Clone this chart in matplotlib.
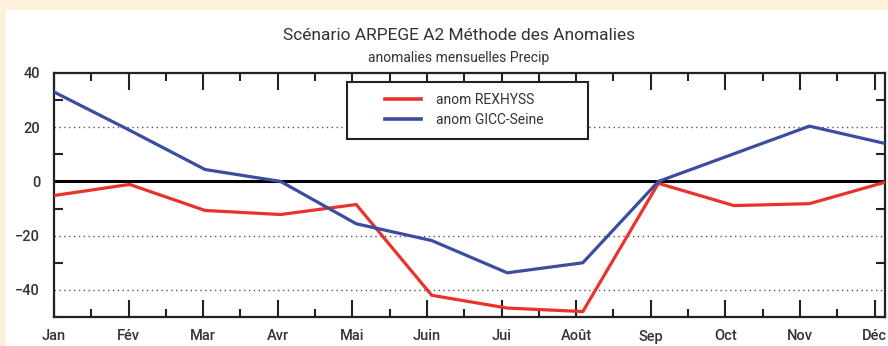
import numpy as np
import matplotlib as mpl
mpl.use('Agg')
from matplotlib import pyplot as plt
from matplotlib.ticker import MultipleLocator

months = ['Jan', 'Fév', 'Mar', 'Avr', 'Mai', 'Juin', 'Jui', 'Août', 'Sep', 'Oct', 'Nov', 'Déc']
anom_rexhyss = [-5.2, -1.1, -10.7, -12.2, -8.5, -42.0, -46.7, -48.0, -0.7, -8.9, -8.2, -0.3]
anom_gicc = [33.0, 18.9, 4.4, 0.0, -15.6, -21.8, -33.7, -30.0, 0.0, 10.2, 20.4, 14.0]

# the series run over the whole x range, ticks are spaced a bit tighter
x_end = 11.14
x_data = np.linspace(0, x_end, len(months))
x_ticks = np.arange(len(months))

plt.rcParams['font.family'] = ['Roboto', 'DejaVu Sans']
txt = '#333333'

fig = plt.figure(figsize=(8.88, 3.46), dpi=100)
fig.patch.set_facecolor('#fdf1dc')
# white panel behind the chart
fig.patches.append(mpl.patches.Rectangle((6/888, 0), 1, 1 - 10/346, transform=fig.transFigure,
                                         facecolor='white', edgecolor='none', zorder=-1))

ax_l, ax_b, ax_w, ax_h = 54, 29, 831, 244
ax = fig.add_axes([ax_l/888, ax_b/346, ax_w/888, ax_h/346])
ax.set_facecolor('white')

for y in [20, -20, -40]:
    ax.axhline(y, color='#555555', lw=1.0, ls=(0, (1, 2.5)), zorder=1)
ax.axhline(0, color='black', lw=2.2, zorder=2)

ax.plot(x_data, anom_rexhyss, color='#e8322b', lw=2.3, label='anom REXHYSS', zorder=3)
ax.plot(x_data, anom_gicc, color='#3a4d9e', lw=2.3, label='anom GICC-Seine', zorder=3)

ax.set_xlim(0, x_end)
ax.set_ylim(-50, 40)
ax.set_xticks(x_ticks)
ax.set_xticklabels(months)
ax.xaxis.set_minor_locator(MultipleLocator(0.5))
ax.set_yticks([40, 20, 0, -20, -40])
ax.yaxis.set_minor_locator(MultipleLocator(10))

ax.tick_params(axis='x', which='major', direction='in', length=12, width=1.5,
               top=True, pad=9, labelsize=10.5, labelcolor=txt, color='#222222')
ax.tick_params(axis='x', which='minor', direction='in', length=6, width=1.5,
               top=True, color='#222222')
ax.tick_params(axis='y', which='major', direction='in', length=0, right=True,
               pad=10, labelsize=10.5, labelcolor=txt)
ax.tick_params(axis='y', which='minor', direction='in', length=6.5, width=1.5,
               right=True, color='#222222')
for lbl in ax.get_xticklabels() + ax.get_yticklabels():
    lbl.set_fontweight('medium')
for s in ax.spines.values():
    s.set_linewidth(1.6)
    s.set_color('#222222')

# legend box, wider than the entries it holds
box_x0, box_x1, box_y0, box_y1 = 347, 588, 82, 139
ax.add_patch(mpl.patches.Rectangle(((box_x0 - ax_l)/ax_w, (346 - ax_b - box_y1)/ax_h),
                                   (box_x1 - box_x0)/ax_w, (box_y1 - box_y0)/ax_h,
                                   transform=ax.transAxes, facecolor='white',
                                   edgecolor='#222222', lw=1.5, zorder=4))
leg = ax.legend(loc='center left', bbox_to_anchor=((385 - ax_l)/ax_w, (346 - ax_b - 110)/ax_h),
                frameon=False, fontsize=10, handlelength=2.6, handletextpad=1.1,
                borderpad=0, labelspacing=0.45, borderaxespad=0)
leg.set_zorder(5)
for line in leg.get_lines():
    line.set_linewidth(2.6)
for t in leg.get_texts():
    t.set_color(txt)

fig.text(459/888, 1 - 35/346, 'Scénario ARPEGE A2 Méthode des Anomalies', ha='center', va='center',
         fontsize=12.5, color=txt)
fig.text(459/888, 1 - 58/346, 'anomalies mensuelles Precip', ha='center', va='center',
         fontsize=10, color=txt)

fig.savefig('out.png', dpi=100, facecolor=fig.get_facecolor())
